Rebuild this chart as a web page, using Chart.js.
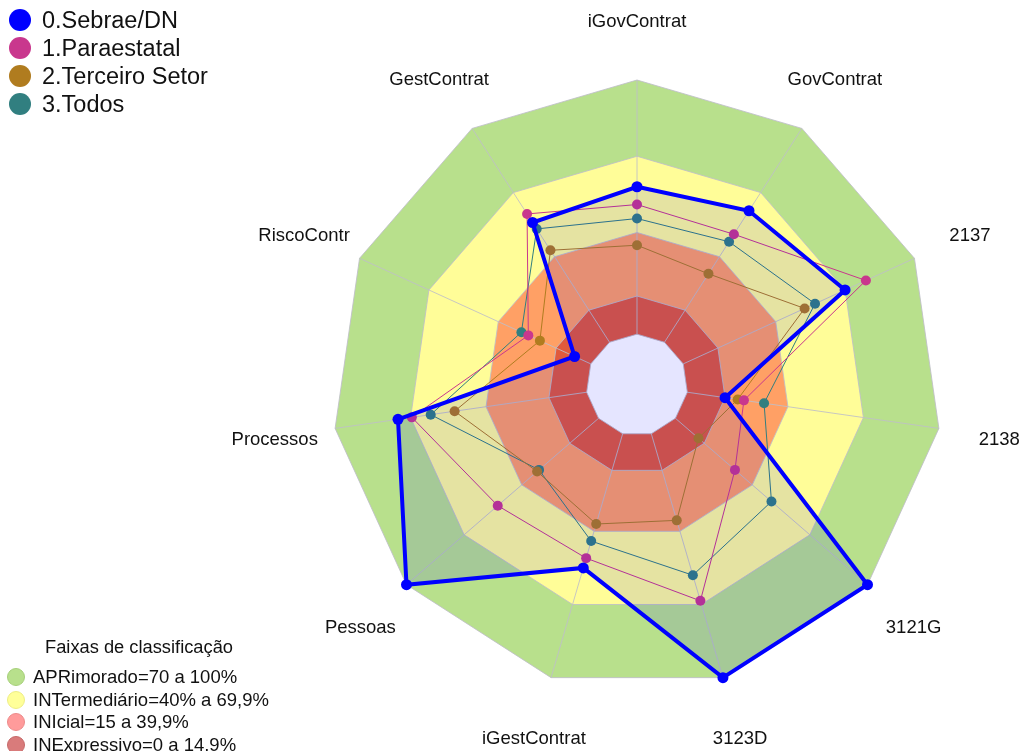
<!DOCTYPE html>
<html>
<head>
<meta charset="utf-8">
<script src="https://cdn.jsdelivr.net/npm/chart.js@4.4.1/dist/chart.umd.min.js"></script>
<style>
  html, body { margin: 0; padding: 0; background: #ffffff; overflow: hidden; }
  #wrap { position: relative; width: 1021px; height: 751px; }
  canvas { position: absolute; left: 0; top: 0; }
  .leg { position: absolute; font-family: "Liberation Sans", Arial, sans-serif; color: #111; white-space: nowrap; }
  .row { position: absolute; left: 0; display: flex; align-items: center; }
  .dot { display: inline-block; border-radius: 50%; box-sizing: border-box; }
</style>
</head>
<body>
<div id="wrap">
  <canvas id="c" width="1021" height="751"></canvas>
  <div id="legTop" class="leg" style="left:0;top:0;font-size:23.5px;"></div>
  <div id="legBot" class="leg" style="left:0;top:0;font-size:18.5px;"></div>
</div>
<script>
// ---- data ----
const categories = ["iGovContrat", "GovContrat", "2137", "2138", "3121G", "3123D",
                    "iGestContrat", "Pessoas", "Processos", "RiscoContr", "GestContrat"];
const seriesNames = ["0.Sebrae/DN", "1.Paraestatal", "2.Terceiro Setor", "3.Todos"];
const sebrae      = [58, 61.5, 70, 15, 100, 100, 55, 100, 75, 7, 56];
const paraestatal = [51, 50.5, 79, 22.5, 31, 68.5, 51, 52.5, 69.5, 27, 60];
const terceiro    = [35, 32, 52.5, 20, 12, 35.5, 37, 32, 52.5, 22, 43];
const todos       = [45.5, 47, 57, 30.5, 50, 58, 44, 31, 62, 30, 53];
const bandLimits  = [100, 70, 40, 15, 0];
const bandNames   = ["APRimorado=70 a 100%", "INTermediário=40% a 69,9%", "INIcial=15 a 39,9%", "INExpressivo=0 a 14,9%"];
const legendTitle = "Faixas de classificação";

// ---- styles ----
const seriesColors = ["#0000ff", "#c9378d", "#b07c1f", "#317f80"];
const bandFill     = ["#b8e08c", "#fffd98", "#ffa065", "#e05a3c", "#ffffff"];
const bandLegend   = ["#b8e08c", "#ffff99", "#ff9b9b", "#d97b7b"];
const bandLegendBorder = ["#a6cf7a", "#eded85", "#ec8a8a", "#c56a6a"];

const bandsPlugin = {
  id: 'bands',
  beforeDatasetsDraw(chart) {
    const s = chart.scales.r;
    const ctx = chart.ctx;
    const n = categories.length;
    ctx.save();
    bandLimits.forEach((v, k) => {
      ctx.beginPath();
      for (let i = 0; i < n; i++) {
        const p = s.getPointPositionForValue(i, v);
        if (i === 0) ctx.moveTo(p.x, p.y); else ctx.lineTo(p.x, p.y);
      }
      ctx.closePath();
      ctx.fillStyle = bandFill[k];
      ctx.fill();
    });
    ctx.strokeStyle = "rgba(190,190,200,0.85)";
    ctx.lineWidth = 1;
    bandLimits.forEach((v) => {
      ctx.beginPath();
      for (let i = 0; i < n; i++) {
        const p = s.getPointPositionForValue(i, v);
        if (i === 0) ctx.moveTo(p.x, p.y); else ctx.lineTo(p.x, p.y);
      }
      ctx.closePath();
      ctx.stroke();
    });
    for (let i = 0; i < n; i++) {
      const a = s.getPointPositionForValue(i, 0);
      const b = s.getPointPositionForValue(i, 100);
      ctx.beginPath();
      ctx.moveTo(a.x, a.y);
      ctx.lineTo(b.x, b.y);
      ctx.stroke();
    }
    // axis labels
    ctx.fillStyle = "#111";
    ctx.font = "18.5px 'Liberation Sans', Arial, sans-serif";
    ctx.textAlign = "center";
    ctx.textBaseline = "middle";
    for (let i = 0; i < n; i++) {
      const p = s.getPointPosition(i, s.drawingArea * 1.2);
      ctx.fillText(categories[i], p.x, p.y + 3);
    }
    ctx.restore();
  }
};

const seriesData = [sebrae, paraestatal, terceiro, todos];
const datasets = seriesData.map((d, k) => ({
  label: seriesNames[k],
  data: d,
  borderColor: seriesColors[k],
  backgroundColor: k === 0 ? "rgba(0,0,255,0.1)" : "rgba(0,0,0,0)",
  fill: k === 0 ? 'start' : false,
  borderWidth: k === 0 ? 4 : 1,
  pointRadius: k === 0 ? 5.5 : 5,
  pointBackgroundColor: seriesColors[k],
  pointBorderColor: seriesColors[k],
  pointBorderWidth: 0,
  tension: 0,
  clip: false
}));

new Chart(document.getElementById('c'), {
  type: 'radar',
  data: { labels: categories, datasets },
  options: {
    responsive: false,
    animation: false,
    layout: { padding: { left: 332, right: 79, top: 80, bottom: 61 } },
    plugins: { legend: { display: false }, tooltip: { enabled: false } },
    scales: {
      r: {
        min: -20, max: 100,
        ticks: { display: false },
        grid: { display: false },
        angleLines: { display: false },
        pointLabels: { display: false }
      }
    }
  },
  plugins: [bandsPlugin]
});

// ---- HTML legends ----
const legTop = document.getElementById('legTop');
seriesNames.forEach((name, k) => {
  const row = document.createElement('div');
  row.className = 'row';
  row.style.top = (20 + 28 * k - 14) + 'px';
  row.style.height = '28px';
  row.style.left = '9px';
  row.innerHTML = '<span class="dot" style="width:22px;height:22px;background:' + seriesColors[k] + ';"></span>' +
                  '<span style="margin-left:11px;">' + name + '</span>';
  legTop.appendChild(row);
});
const legBot = document.getElementById('legBot');
const title = document.createElement('div');
title.style.position = 'absolute';
title.style.left = '45px';
title.style.top = (647 - 11) + 'px';
title.style.lineHeight = '22px';
title.style.fontSize = '18.3px';
title.textContent = legendTitle;
legBot.appendChild(title);
bandNames.forEach((name, k) => {
  const row = document.createElement('div');
  row.className = 'row';
  row.style.top = (677 + 22.5 * k - 11) + 'px';
  row.style.height = '22px';
  row.style.left = '7px';
  row.innerHTML = '<span class="dot" style="width:18px;height:18px;background:' + bandLegend[k] + ';border:1px solid ' + bandLegendBorder[k] + ';"></span>' +
                  '<span style="margin-left:8px;">' + name + '</span>';
  legBot.appendChild(row);
});
</script>
</body>
</html>
